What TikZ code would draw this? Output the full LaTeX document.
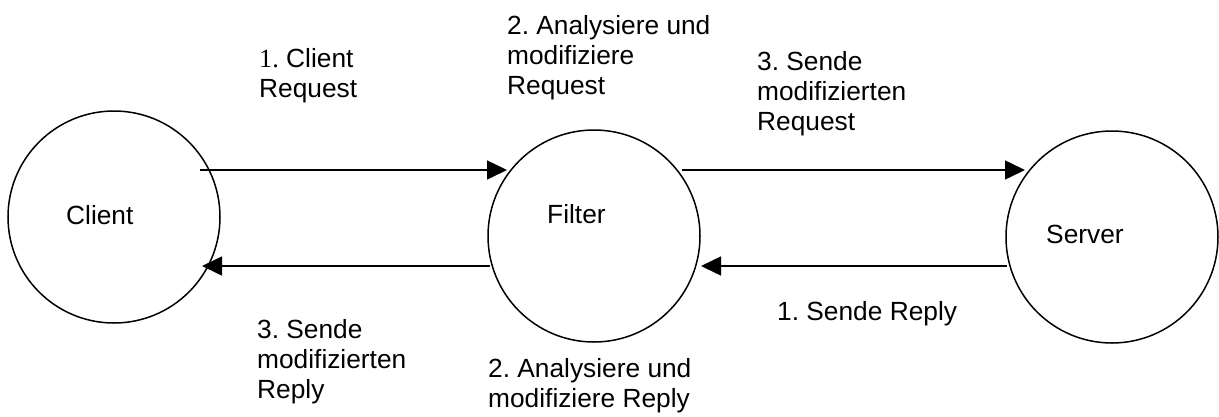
\documentclass[tikz,border=0pt]{standalone}
\usepackage{fontspec}
\setmainfont{Liberation Sans}
\newfontfamily\numserif{Liberation Serif}
\usetikzlibrary{arrows.meta,calc}
\frenchspacing

\begin{document}
\begin{tikzpicture}[x=1pt,y=-1pt,
  station/.style={circle,draw,line width=1.5pt,minimum size=212pt,inner sep=0pt,outer sep=0pt},
  flow/.style={line width=1.5pt,-{Triangle[length=20pt,width=19pt]}},
  caption/.style={anchor=base west,inner sep=0pt,font=\fontsize{26.3}{30}\selectfont},
]
\useasboundingbox (0,0) rectangle (1219,416);

% the three parties
\node[station] (cl) at (114,217) {};
\node[station] (fl) at (594,236) {};
\node[station] (sv) at (1112,237) {};

\node[caption] (clname) at (66,224) {Client};
\node[caption] (flname) at (547,223) {Filter};
\node[caption] (svname) at (1046,243) {Server};

% heights of the request and reply lines
\coordinate (req) at (0,170);
\coordinate (rep) at (0,266);

% request path
\draw[flow] ($(cl.east |- req)+(-20,0)$) -- ($(fl.west |- req)+(19,0)$);
\draw[flow] ($(fl.east |- req)+(-18,0)$) -- ($(sv.west |- req)+(19,0)$);

% reply path
\draw[flow] ($(sv.west |- rep)+(1,0)$) -- ($(fl.east |- rep)+(1,0)$);
\draw[flow] ($(fl.west |- rep)+(2,0)$) -- ($(cl.east |- rep)+(-18,0)$);

% step descriptions
\node[caption] (s1) at (259,67) {\begin{tabular}[t]{@{}l@{}}{\numserif 1.} Client\\Request\end{tabular}};
\node[caption] (s2) at (507,34) {\begin{tabular}[t]{@{}l@{}}2. Analysiere und\\modifiziere\\Request\end{tabular}};
\node[caption] (s3) at (757,70) {\begin{tabular}[t]{@{}l@{}}3. Sende\\modifizierten\\Request\end{tabular}};
\node[caption] (r1) at (777,320) {1. Sende Reply};
\node[caption] (r2) at (488,377) {\begin{tabular}[t]{@{}l@{}}2. Analysiere und\\modifiziere Reply\end{tabular}};
\node[caption] (r3) at (257,338) {\begin{tabular}[t]{@{}l@{}}3. Sende\\modifizierten\\Reply\end{tabular}};
\end{tikzpicture}
\end{document}
